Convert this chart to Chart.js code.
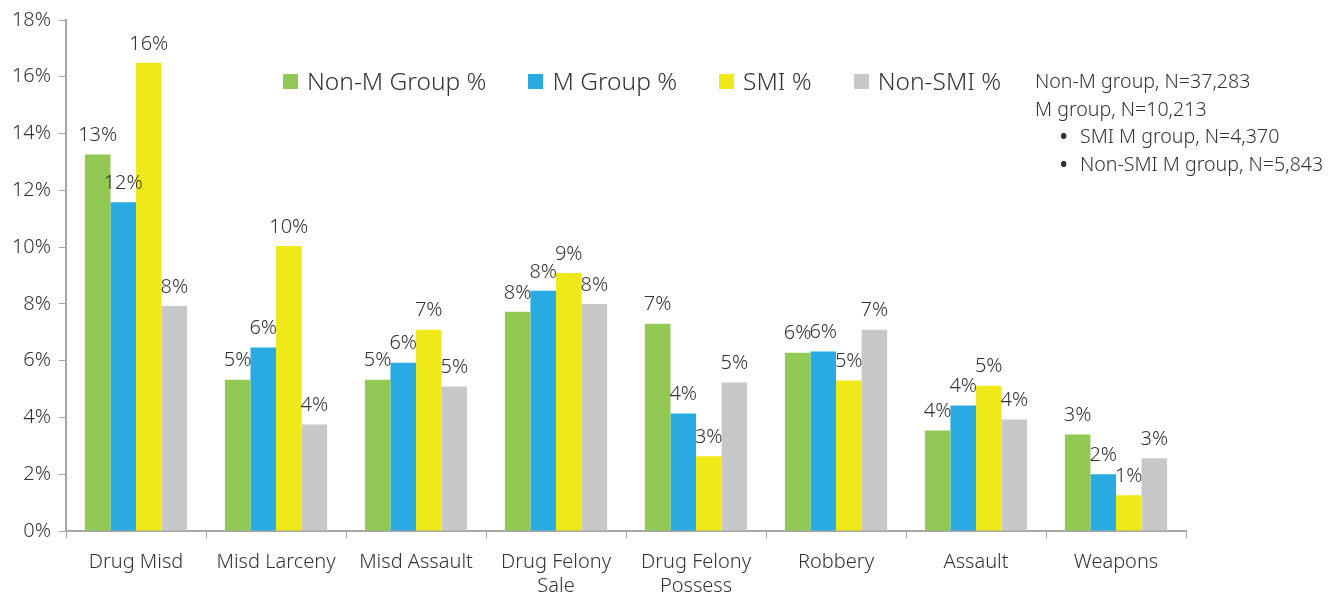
<!DOCTYPE html>
<html>
<head>
<meta charset="utf-8">
<script src="https://cdn.jsdelivr.net/npm/chart.js@4/dist/chart.umd.min.js"></script>
<style>
body { margin: 0; background: #fff; font-family: "Noto Sans", sans-serif; color: #333; }
#wrap { position: relative; width: 1339px; height: 595px; }
#legend { position: absolute; left: 283px; top: 64px; font-size: 24.5px; white-space: nowrap; font-weight: 300; }
#legend span.item { display: inline-block; margin-right: 42px; }
#legend span.box { display: inline-block; width: 15px; height: 15px; margin-right: 9px; vertical-align: 1px; }
#notes { position: absolute; left: 1035px; top: 67px; font-size: 19.6px; line-height: 27.5px; white-space: nowrap; font-weight: 300; }
#notes .sub { padding-left: 25px; }
#notes .dot { display: inline-block; width: 20px; font-weight: 700; }
</style>
</head>
<body>
<div id="wrap">
  <canvas id="crimeChart" width="1339" height="595"></canvas>
  <div id="legend"></div>
  <div id="notes">
    <div>Non-M group, N=37,283</div>
    <div>M group, N=10,213</div>
    <div class="sub"><span class="dot">•</span>SMI M group, N=4,370</div>
    <div class="sub"><span class="dot">•</span>Non-SMI M group, N=5,843</div>
  </div>
</div>
<script>
var categories = ["Drug Misd", "Misd Larceny", "Misd Assault", ["Drug Felony", "Sale"], ["Drug Felony", "Possess"], "Robbery", "Assault", "Weapons"];
var seriesNames = ["Non-M Group %", "M Group %", "SMI %", "Non-SMI %"];
var seriesColors = ["#92c954", "#29abe2", "#f0e91a", "#c8c8ca"];
var nonMGroup = [13.26, 5.33, 5.33, 7.72, 7.30, 6.28, 3.54, 3.40];
var mGroup = [11.58, 6.46, 5.93, 8.46, 4.14, 6.32, 4.42, 2.00];
var smi = [16.49, 10.04, 7.09, 9.09, 2.63, 5.30, 5.12, 1.26];
var nonSmi = [7.93, 3.75, 5.09, 8.00, 5.23, 7.09, 3.93, 2.56];
var seriesValues = [nonMGroup, mGroup, smi, nonSmi];

var axisColor = "#a6a6a6";
var textColor = "#333333";
var fontFamily = "'Noto Sans', sans-serif";

// html legend
var legendHtml = "";
for (var i = 0; i < seriesNames.length; i++) {
    legendHtml += '<span class="item"><span class="box" style="background:' + seriesColors[i] + '"></span>' + seriesNames[i] + '</span>';
}
document.getElementById("legend").innerHTML = legendHtml;

// draws rounded percent labels above each bar
var barLabels = {
    id: "barLabels",
    afterDatasetsDraw: function (chart) {
        var ctx = chart.ctx;
        ctx.save();
        ctx.font = "300 20px " + fontFamily;
        ctx.fillStyle = textColor;
        ctx.textAlign = "center";
        ctx.textBaseline = "bottom";
        chart.data.datasets.forEach(function (ds, di) {
            chart.getDatasetMeta(di).data.forEach(function (bar, idx) {
                ctx.fillText(Math.round(ds.data[idx]) + "%", bar.x, bar.y - 9);
            });
        });
        ctx.restore();
    },
};

var datasets = [];
for (var i = 0; i < seriesNames.length; i++) {
    datasets.push({
        label: seriesNames[i],
        data: seriesValues[i],
        backgroundColor: seriesColors[i],
        borderWidth: 0,
        categoryPercentage: 0.73,
        barPercentage: 1.0,
    });
}

new Chart("crimeChart", {
    type: "bar",
    data: { labels: categories, datasets: datasets },
    plugins: [barLabels],
    options: {
        responsive: false,
        animation: false,
        layout: { padding: { left: 0, right: 153, top: 16, bottom: 0 } },
        plugins: {
            legend: { display: false },
            tooltip: { enabled: false },
        },
        scales: {
            x: {
                grid: { display: true, drawOnChartArea: false, tickLength: 7, color: axisColor },
                border: { color: axisColor, width: 2 },
                ticks: { color: textColor, font: { size: 20, family: fontFamily, weight: 300, lineHeight: 1.2 }, padding: 12, maxRotation: 0 },
                afterFit: function (scale) { scale.height = 64; },
            },
            y: {
                min: 0,
                max: 18,
                grid: { display: true, drawOnChartArea: false, tickLength: 7, color: axisColor },
                border: { color: axisColor, width: 2 },
                ticks: {
                    stepSize: 2,
                    color: textColor,
                    font: { size: 20, family: fontFamily, weight: 300 },
                    padding: 8,
                    callback: function (value) { return value + "%"; },
                },
                afterFit: function (scale) { scale.width = 66; },
            },
        },
    },
});
</script>
</body>
</html>
